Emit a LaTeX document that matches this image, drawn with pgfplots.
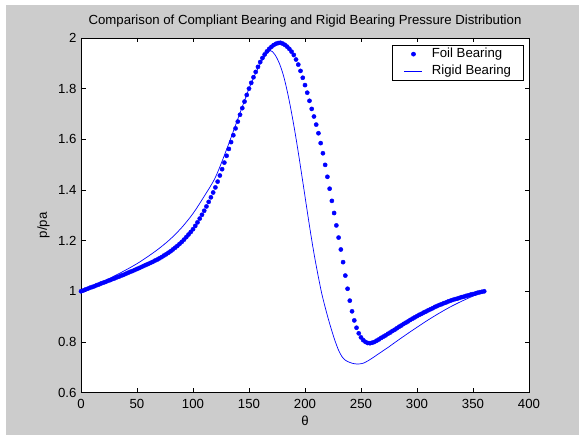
\documentclass[border=0pt]{standalone}
\usepackage{fontspec}
\setmainfont{Liberation Sans}
\usepackage{pgfplots}
\pgfplotsset{compat=1.18}
\definecolor{figgray}{RGB}{204,204,204}
\newcommand{\figfont}{\fontsize{13.2bp}{15bp}\selectfont}

\begin{document}
\figfont
\begin{tikzpicture}[x=1bp,y=1bp]
% figure background; the axis box sits with its lower left corner at the origin
\fill[white] (-81,-42.4) rectangle (498,392.6);
\fill[figgray] (-75,-42.4) rectangle (498,387.6);
\begin{axis}[
    scale only axis,
    width=448bp, height=354.6bp,
    xmin=0, xmax=400, ymin=0.6, ymax=2,
    xtick={0,50,...,400}, ytick={0.6,0.8,1,1.2,1.4,1.6,1.8,2},
    tick align=inside, major tick length=4.5bp,
    every tick/.style={black, line width=0.5bp},
    axis line style={black, line width=0.6bp},
    axis background/.style={fill=white},
    /pgf/number format/assume math mode=true,
    ticklabel style={font=\figfont},
    xticklabel style={yshift=-2.5bp},
    title={Comparison of Compliant Bearing and Rigid Bearing Pressure Distribution},
    title style={font=\figfont, at={(axis description cs:0.5,1.030)}, anchor=center},
    xlabel={θ}, ylabel={p/pa},
    xlabel style={font=\figfont, at={(axis description cs:0.5,-0.080)}, anchor=center},
    ylabel style={font=\figfont, at={(axis description cs:-0.084,0.472)}, anchor=center},
    legend cell align=left,
    legend image code/.code={\draw[mark repeat=2,mark phase=2,#1] plot coordinates {(0bp,0bp) (9bp,0bp) (18bp,0bp)};},
    legend style={at={(0.9873,0.980)}, anchor=north east, draw=black, line width=0.5bp,
        fill=white, inner xsep=12bp, inner ysep=2.8bp, row sep=5.3bp, column sep=9bp,
        font=\figfont, nodes={inner sep=0pt, text height=9.3bp, text depth=2.7bp}},
]
\addplot[only marks, mark=*, mark size=2.1bp, color=blue, mark options={draw=blue, fill=blue}] coordinates {
(0,1.000) (2,1.003) (4,1.007) (6,1.010) (8,1.014) (10,1.017) (12,1.020) (14,1.024) (16,1.027) (18,1.031)
(20,1.034) (22,1.037) (24,1.041) (26,1.044) (28,1.048) (30,1.051) (32,1.055) (34,1.058) (36,1.062) (38,1.065)
(40,1.069) (42,1.073) (44,1.077) (46,1.080) (48,1.084) (50,1.088) (52,1.092) (54,1.096) (56,1.100) (58,1.104)
(60,1.108) (62,1.112) (64,1.116) (66,1.121) (68,1.125) (70,1.130) (72,1.135) (74,1.141) (76,1.146) (78,1.152)
(80,1.158) (82,1.165) (84,1.172) (86,1.179) (88,1.187) (90,1.195) (92,1.204) (94,1.214) (96,1.224) (98,1.234)
(100,1.245) (102,1.258) (104,1.272) (106,1.287) (108,1.302) (110,1.318) (112,1.335) (114,1.353) (116,1.371) (118,1.390)
(120,1.410) (122,1.433) (124,1.457) (126,1.482) (128,1.508) (130,1.535) (132,1.562) (134,1.589) (136,1.616) (138,1.643)
(140,1.670) (142,1.697) (144,1.723) (146,1.749) (148,1.775) (150,1.800) (152,1.823) (154,1.845) (156,1.866) (158,1.886)
(160,1.905) (162,1.921) (164,1.935) (166,1.947) (168,1.957) (170,1.965) (172,1.972) (174,1.977) (176,1.980) (178,1.981)
(180,1.978) (182,1.973) (184,1.966) (186,1.957) (188,1.946) (190,1.933) (192,1.915) (194,1.895) (196,1.870) (198,1.843)
(200,1.814) (202,1.784) (204,1.752) (206,1.720) (208,1.690) (210,1.658) (212,1.624) (214,1.585) (216,1.545) (218,1.499)
(220,1.452) (222,1.405) (224,1.357) (226,1.309) (228,1.260) (230,1.212) (232,1.165) (234,1.115) (236,1.062) (238,1.010)
(240,0.963) (242,0.921) (244,0.885) (246,0.856) (248,0.834) (250,0.818) (252,0.807) (254,0.800) (256,0.796) (258,0.795)
(260,0.797) (262,0.800) (264,0.805) (266,0.810) (268,0.816) (270,0.821) (272,0.826) (274,0.832) (276,0.837) (278,0.843)
(280,0.848) (282,0.854) (284,0.860) (286,0.865) (288,0.871) (290,0.876) (292,0.881) (294,0.887) (296,0.892) (298,0.897)
(300,0.902) (302,0.907) (304,0.911) (306,0.916) (308,0.920) (310,0.925) (312,0.929) (314,0.933) (316,0.938) (318,0.942)
(320,0.946) (322,0.949) (324,0.953) (326,0.956) (328,0.960) (330,0.963) (332,0.966) (334,0.969) (336,0.971) (338,0.974)
(340,0.977) (342,0.979) (344,0.982) (346,0.984) (348,0.987) (350,0.989) (352,0.991) (354,0.994) (356,0.996) (358,0.998)
(360,1.000)
};
\addlegendentry{Foil Bearing}
\addplot[blue, line width=0.7bp, smooth] coordinates {
(0,1.000) (10,1.019) (20,1.039) (30,1.061) (40,1.084) (50,1.109) (60,1.138) (70,1.170) (80,1.207) (90,1.252)
(100,1.307) (110,1.375) (120,1.450) (130,1.560) (140,1.680) (150,1.800) (155,1.852) (160,1.898) (164,1.928) (167,1.944)
(169,1.950) (171,1.946) (173,1.935) (175,1.920) (177,1.901) (179,1.877) (181,1.848) (183,1.812) (185,1.772) (187,1.728)
(189,1.680) (191,1.630) (193,1.576) (195,1.520) (197,1.462) (199,1.404) (201,1.345) (203,1.287) (205,1.230) (207,1.176)
(209,1.125) (212,1.055) (215,0.990) (218,0.937) (221,0.888) (224,0.843) (227,0.802) (230,0.767) (233,0.742) (236,0.728)
(240,0.719) (244,0.714) (248,0.713) (252,0.716) (256,0.725) (260,0.736) (265,0.751) (270,0.766) (275,0.781) (280,0.797)
(290,0.828) (300,0.858) (310,0.887) (320,0.914) (330,0.939) (340,0.961) (350,0.981) (360,1.000)
};
\addlegendentry{Rigid Bearing}
\end{axis}
\end{tikzpicture}
\end{document}
